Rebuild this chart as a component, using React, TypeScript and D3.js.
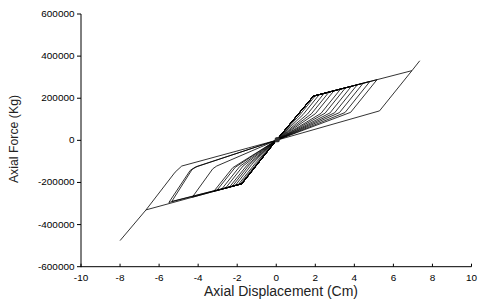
import React from "react";
import * as d3 from "d3";

const xTicks = [-10, -8, -6, -4, -2, 0, 2, 4, 6, 8, 10];
const yTicks = [-600000, -400000, -200000, 0, 200000, 400000, 600000];

// positive half-cycles: peak on envelope, knee after elastic unloading
const posYield = [1.9, 210000];
const posPeakX = [2.0, 2.2, 2.45, 2.7, 2.95, 3.3, 3.55, 3.85, 4.15, 4.45, 4.8, 5.16, 6.95];
const posPeakF = [212000, 217000, 223000, 229000, 235000, 244000, 250000, 257000, 264000, 271000, 280000, 288000, 331000];
const posKneeX = [1.2, 1.37, 1.59, 1.8, 2.01, 2.29, 2.5, 2.75, 2.99, 3.24, 3.52, 3.81, 5.29];
const posKneeF = [120000, 122000, 124000, 126000, 127000, 128000, 129000, 130000, 131000, 132000, 132000, 133000, 140000];

// negative half-cycles
const negYield = [-1.76, -206000];
const negPeakX = [-1.85, -1.95, -2.1, -2.25, -2.4, -2.6, -2.8, -3.05, -3.2, -4.3, -5.35, -5.5, -6.67];
const negPeakF = [-208300, -210800, -214600, -218400, -222200, -227300, -232300, -238600, -242400, -270000, -290000, -295000, -330200];
const negKneeX = [-1.0, -1.1, -1.25, -1.38, -1.5, -1.7, -1.87, -2.1, -2.23, -3.25, -4.31, -4.41, -5.18];
const negKneeF = [-110000, -112000, -114000, -116000, -118000, -122000, -124000, -128000, -130000, -135000, -138000, -143000, -151000];
const negBendX = [NaN, NaN, NaN, NaN, NaN, NaN, NaN, NaN, NaN, -3.05, -4.05, -4.15, -4.84];
const negBendF = [NaN, NaN, NaN, NaN, NaN, NaN, NaN, NaN, NaN, -122000, -124000, -127000, -122000];

const posTip = [[6.95, 331000], [7.35, 378000]];
const negTip = [[-6.67, -330200], [-8.0, -476000]];

const W = 478;
const H = 305;

export default function App() {
  const x = d3.scaleLinear().domain([-10, 10]).range([81, 471.5]);
  const y = d3.scaleLinear().domain([-600000, 600000]).range([266.7, 14]);

  const pts: [number, number][] = [[0, 0]];
  for (let i = 0; i < posPeakX.length; i++) {
    pts.push([posYield[0], posYield[1]]);
    pts.push([posPeakX[i], posPeakF[i]]);
    pts.push([posKneeX[i], posKneeF[i]]);
    pts.push([0, 0]);
    pts.push([negYield[0], negYield[1]]);
    pts.push([negPeakX[i], negPeakF[i]]);
    pts.push([negKneeX[i], negKneeF[i]]);
    if (!isNaN(negBendX[i])) pts.push([negBendX[i], negBendF[i]]);
    pts.push([0, 0]);
  }
  pts.push([posYield[0], posYield[1]]);

  const line = d3
    .line<number[]>()
    .x((d) => x(d[0]))
    .y((d) => y(d[1]));

  const font = "'Liberation Sans', Arial, sans-serif";

  return (
    <div style={{ position: "fixed", left: 0, top: 0 }}>
      <svg width={W} height={H} style={{ display: "block", background: "#fff" }}>
        <g fill="none" stroke="#000" strokeWidth={0.8} strokeLinejoin="round">
          <path d={line(pts) || ""} />
          <path d={line(posTip) || ""} />
          <path d={line(negTip) || ""} />
        </g>
        <circle cx={x(0.05)} cy={y(3000)} r={2.6} fill="#333" />

        {/* axes */}
        <line x1={81} x2={81} y1={y(600000)} y2={y(-600000) + 0.5} stroke="#000" strokeWidth={1} />
        <line x1={81} x2={x(10)} y1={y(-600000)} y2={y(-600000)} stroke="#000" strokeWidth={1} />
        {yTicks.map((t) => (
          <g key={"y" + t}>
            <line x1={77} x2={81} y1={y(t)} y2={y(t)} stroke="#000" strokeWidth={1} />
            <text
              transform={`translate(74.5,${y(t) + 3}) scale(1.2,1)`}
              textAnchor="end"
              fontFamily={font}
              fontSize={8.3}
              fill="#000"
            >
              {t}
            </text>
          </g>
        ))}
        {xTicks.map((t) => (
          <g key={"x" + t}>
            <line x1={x(t)} x2={x(t)} y1={y(-600000)} y2={y(-600000) - 3} stroke="#000" strokeWidth={1} />
            <text
              transform={`translate(${x(t)},280.5) scale(1.2,1)`}
              textAnchor="middle"
              fontFamily={font}
              fontSize={8.3}
              fill="#000"
            >
              {t}
            </text>
          </g>
        ))}
        <text
          x={281}
          y={296}
          textAnchor="middle"
          fontFamily={font}
          fontSize={14}
          fill="#222"
        >
          Axial Displacement (Cm)
        </text>
        <text
          transform={`translate(18,139) rotate(-90)`}
          textAnchor="middle"
          fontFamily={font}
          fontSize={12.3}
          fill="#222"
        >
          Axial Force (Kg)
        </text>
      </svg>
    </div>
  );
}
